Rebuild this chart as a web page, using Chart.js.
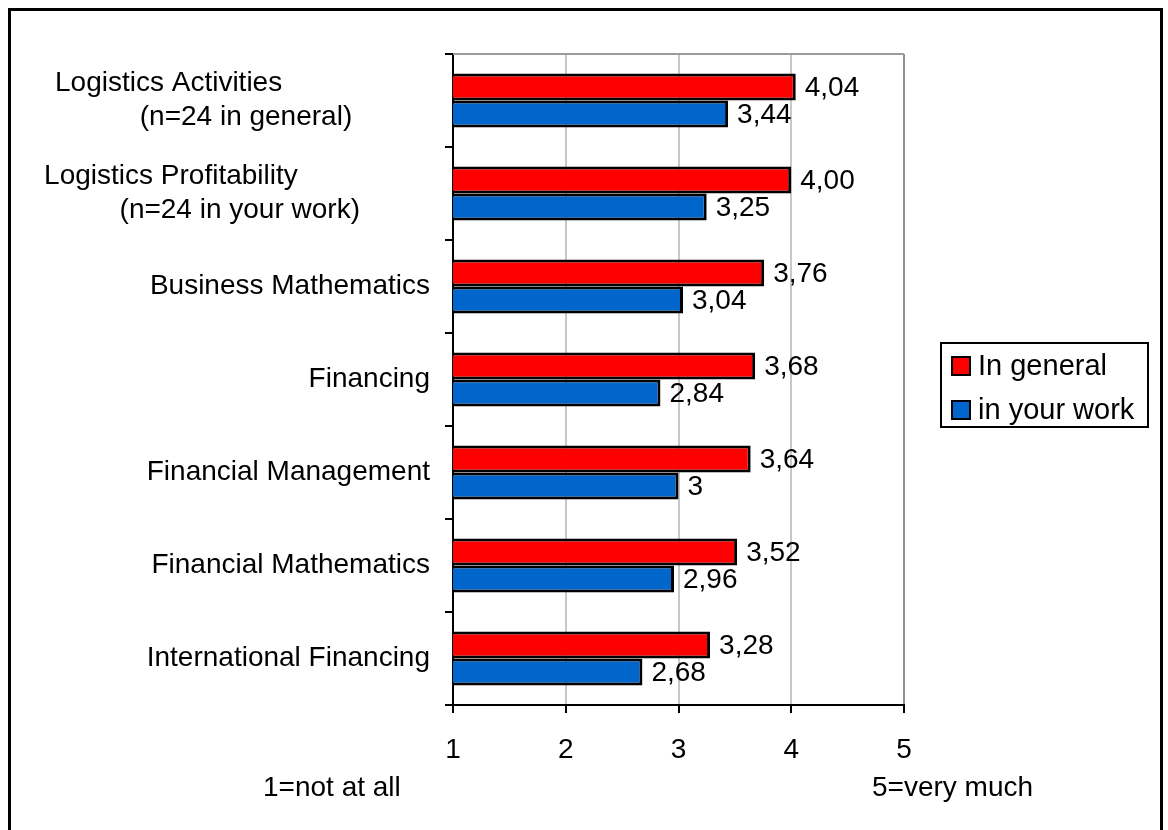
<!DOCTYPE html>
<html>
<head>
<meta charset="utf-8">
<title>Importance of finance topics</title>
<script src="https://cdn.jsdelivr.net/npm/chart.js@4.4.1/dist/chart.umd.min.js"></script>
<style>
  html, body { margin: 0; padding: 0; background: #fff; }
  #wrap { width: 1168px; height: 830px; }
</style>
</head>
<body>
<div id="wrap"><canvas id="skillsChart" width="1168" height="830"></canvas></div>
<script>
// 类别（前两项带说明，尾部空格用于错开对齐）
const categories = [
    ['Logistics Activities' + ' '.repeat(19), '(n=24 in general)' + ' '.repeat(10)],
    ['Logistics Profitability' + ' '.repeat(17), '(n=24 in your work)' + ' '.repeat(9)],
    'Business Mathematics',
    'Financing',
    'Financial Management',
    'Financial Mathematics',
    'International Financing'
];
const inGeneral = [4.04, 4.00, 3.76, 3.68, 3.64, 3.52, 3.28];
const inYourWork = [3.44, 3.25, 3.04, 2.84, 3, 2.96, 2.68];
const scaleMin = 1;
const scaleMax = 5;
const noteLow = '1=not at all';
const noteHigh = '5=very much';

const FONT = '"Liberation Sans", Arial, sans-serif';

// 数值格式：逗号作小数点
function fmtFixed(v) { return v.toFixed(2).replace('.', ','); }
function fmtGeneral(v) { return String(v).replace('.', ','); }

// 外框、图区上边线、图例和底部说明
const decorPlugin = {
    id: 'decor',
    beforeDraw(chart) {
        const ctx = chart.ctx;
        ctx.save();
        ctx.fillStyle = '#fff';
        ctx.fillRect(0, 0, chart.width, chart.height);
        ctx.strokeStyle = '#000';
        ctx.lineWidth = 3;
        ctx.strokeRect(9.5, 9.5, 1152, 840);
        ctx.restore();
    },
    beforeDatasetsDraw(chart) {
        const ctx = chart.ctx;
        const a = chart.chartArea;
        ctx.save();
        ctx.strokeStyle = '#9a9a9a';
        ctx.lineWidth = 2;
        ctx.beginPath();
        ctx.moveTo(a.left, a.top);
        ctx.lineTo(a.right, a.top);
        ctx.stroke();
        ctx.restore();
    },
    afterDraw(chart) {
        const ctx = chart.ctx;
        ctx.save();
        // 图例
        ctx.strokeStyle = '#000';
        ctx.lineWidth = 2;
        ctx.strokeRect(941, 343, 207, 84);
        ctx.font = '29px ' + FONT;
        ctx.textBaseline = 'middle';
        ctx.textAlign = 'left';
        chart.data.datasets.forEach((ds, i) => {
            const cy = 366 + i * 44;
            ctx.fillStyle = ds.backgroundColor;
            ctx.fillRect(952, cy - 9, 18, 18);
            ctx.strokeRect(952, cy - 9, 18, 18);
            ctx.fillStyle = '#000';
            ctx.fillText(ds.label, 978, cy + 1);
        });
        // 刻度说明
        ctx.font = '28px ' + FONT;
        ctx.fillText(noteLow, 263, 788);
        ctx.fillText(noteHigh, 872, 788);
        ctx.restore();
    }
};

// 柱末端数值标签
const valueLabels = {
    id: 'valueLabels',
    afterDatasetsDraw(chart) {
        const ctx = chart.ctx;
        ctx.save();
        ctx.font = '28px ' + FONT;
        ctx.fillStyle = '#000';
        ctx.textAlign = 'left';
        ctx.textBaseline = 'middle';
        chart.data.datasets.forEach((ds, i) => {
            chart.getDatasetMeta(i).data.forEach((bar, j) => {
                ctx.fillText(ds.fmt(ds.data[j]), bar.x + 9, bar.y + 1);
            });
        });
        ctx.restore();
    }
};

const ctx = document.getElementById('skillsChart').getContext('2d');
new Chart(ctx, {
    type: 'bar',
    data: {
        labels: categories,
        datasets: [{
            label: 'In general',
            data: inGeneral,
            fmt: fmtFixed,
            backgroundColor: '#ff0000',
            borderColor: '#000',
            borderWidth: 3,
            borderSkipped: false
        }, {
            label: 'in your work',
            data: inYourWork,
            fmt: fmtGeneral,
            backgroundColor: '#0066cc',
            borderColor: '#000',
            borderWidth: 3,
            borderSkipped: false
        }]
    },
    options: {
        indexAxis: 'y',
        responsive: false,
        animation: false,
        events: [],
        datasets: {
            bar: { categoryPercentage: 0.58, barPercentage: 1 }
        },
        layout: { padding: { left: 10, top: 54, right: 264, bottom: 0 } },
        scales: {
            x: {
                min: scaleMin,
                max: scaleMax,
                afterFit(scale) { scale.height = 125; },
                ticks: {
                    stepSize: 1,
                    padding: 20,
                    color: '#000',
                    font: { family: FONT, size: 28 }
                },
                grid: {
                    color: c => (c.tick && c.tick.value === scaleMax) ? '#909090' : '#c8c8c8',
                    lineWidth: 2,
                    tickColor: '#000',
                    tickLength: 8
                },
                border: { color: '#000', width: 2 }
            },
            y: {
                afterFit(scale) { scale.width = 443; },
                ticks: {
                    padding: 15,
                    color: '#000',
                    font: { family: FONT, size: 28, lineHeight: 1.2 }
                },
                grid: {
                    offset: true,
                    drawOnChartArea: false,
                    color: '#000',
                    lineWidth: 2,
                    tickLength: 8
                },
                border: { color: '#000', width: 2 }
            }
        },
        plugins: {
            legend: { display: false },
            tooltip: { enabled: false }
        }
    },
    plugins: [decorPlugin, valueLabels]
});
</script>
</body>
</html>
